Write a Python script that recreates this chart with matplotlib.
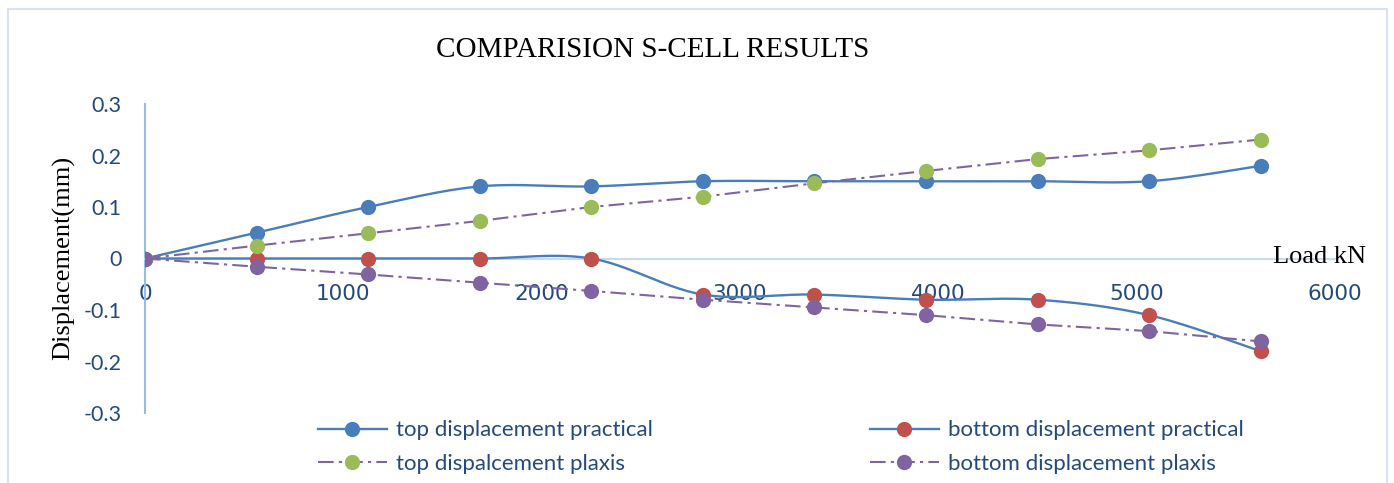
import matplotlib
matplotlib.use("Agg")
import matplotlib.pyplot as plt
from matplotlib.patches import Rectangle
import numpy as np

# data
load = [0, 562.5, 1125, 1687.5, 2250, 2812.5, 3375, 3937.5, 4500, 5062.5, 5625]
top_practical = [0, 0.05, 0.10, 0.14, 0.14, 0.15, 0.15, 0.15, 0.15, 0.15, 0.18]
bottom_practical = [0, 0, 0, 0, 0, -0.07, -0.07, -0.08, -0.08, -0.11, -0.18]
top_plaxis = [0, 0.025, 0.049, 0.073, 0.10, 0.12, 0.146, 0.17, 0.193, 0.21, 0.231]
bottom_plaxis = [0, -0.016, -0.031, -0.047, -0.063, -0.08, -0.095, -0.11, -0.128, -0.141, -0.161]

x_ticks = [0, 1000, 2000, 3000, 4000, 5000, 6000]
y_ticks = [-0.3, -0.2, -0.1, 0, 0.1, 0.2, 0.3]

BLUE = "#4A7EBB"
RED = "#C0504D"
GREEN = "#9BBB59"
PURPLE = "#8064A2"
TEXT = "#244A7C"
SANS = "Lato"
SERIF = "Liberation Serif"


def smooth(xs, ys, n=30):
    # Excel-style smoothed line (Catmull-Rom as cubic Bezier)
    p = np.column_stack([xs, ys]).astype(float)
    p = np.vstack([p[0], p, p[-1]])
    out = []
    t = np.linspace(0, 1, n)[:, None]
    for i in range(1, len(p) - 2):
        p0, p1, p2, p3 = p[i - 1], p[i], p[i + 1], p[i + 2]
        c1 = p1 + (p2 - p0) / 6
        c2 = p2 - (p3 - p1) / 6
        seg = ((1 - t) ** 3) * p1 + 3 * ((1 - t) ** 2) * t * c1 + 3 * (1 - t) * t ** 2 * c2 + t ** 3 * p2
        out.append(seg if i == 1 else seg[1:])
    seg = np.vstack(out)
    return seg[:, 0], seg[:, 1]


W, H = 1394, 483
fig = plt.figure(figsize=(W / 100, H / 100), dpi=100)
ax = fig.add_axes([145 / W, (H - 413) / H, 1190 / W, 309 / H])

dashdot = (0, (7.5, 2.5, 1.5, 2.5))
mk = dict(marker="o", markersize=11, markeredgewidth=0)

sx, sy = smooth(load, top_practical)
ax.plot(sx, sy, color=BLUE, lw=1.7, zorder=3)
ax.plot(load, top_practical, ls="none", color=BLUE, zorder=4, **mk)

sx, sy = smooth(load, bottom_practical)
ax.plot(sx, sy, color=BLUE, lw=1.7, zorder=3)
ax.plot(load, bottom_practical, ls="none", color=RED, zorder=4, **mk)

ax.plot(load, top_plaxis, color=PURPLE, lw=1.5, ls=dashdot, zorder=5)
ax.plot(load, top_plaxis, ls="none", color=GREEN, zorder=6, **mk)

ax.plot(load, bottom_plaxis, color=PURPLE, lw=1.5, ls=dashdot, zorder=5)
ax.plot(load, bottom_plaxis, ls="none", color=PURPLE, zorder=6, **mk)

ax.set_xlim(0, 6000)
ax.set_ylim(-0.3, 0.3)
ax.set_xticks(x_ticks)
ax.set_xticklabels([str(v) for v in x_ticks])
ax.set_yticks(y_ticks)
ax.set_yticklabels(["0" if v == 0 else f"{v:g}" for v in y_ticks])
ax.tick_params(axis="both", length=0, labelsize=15.5, labelcolor=TEXT)
ax.tick_params(axis="x", pad=18)
ax.tick_params(axis="y", pad=17)
for lab in ax.get_xticklabels() + ax.get_yticklabels():
    lab.set_fontfamily(SANS)

ax.spines["top"].set_visible(False)
ax.spines["right"].set_visible(False)
ax.spines["bottom"].set_position(("data", 0))
ax.spines["bottom"].set_color("#C9D9EE")
ax.spines["bottom"].set_linewidth(1.5)
ax.spines["left"].set_color("#9BBBE0")
ax.spines["left"].set_linewidth(1.5)
ax.patch.set_visible(False)

fig.text(653 / W, 1 - 50 / H, "COMPARISION S-CELL RESULTS", family=SERIF,
         fontsize=21, ha="center", va="center")
fig.text(64 / W, 1 - 258 / H, "Displacement(mm)", family=SERIF, fontsize=19,
         rotation=90, ha="center", va="center")
fig.text(1320 / W, 1 - 257 / H, "Load kN", family=SERIF, fontsize=19,
         ha="center", va="center", zorder=5)

# outer chart border
fig.patches.append(Rectangle((8 / W, -0.05), 1379 / W, (H - 9) / H + 0.05,
                             transform=fig.transFigure, fill=False,
                             edgecolor="#D6E2F2", lw=1.5))

# legend, two columns
h_tp = plt.Line2D([], [], color=BLUE, lw=1.7, markerfacecolor=BLUE, **mk)
h_bp = plt.Line2D([], [], color=BLUE, lw=1.7, markerfacecolor=RED, **mk)
h_tx = plt.Line2D([], [], color=PURPLE, lw=1.5, ls=dashdot, markerfacecolor=GREEN, **mk)
h_bx = plt.Line2D([], [], color=PURPLE, lw=1.5, ls=dashdot, markerfacecolor=PURPLE, **mk)

legend_kw = dict(loc="center left", frameon=False, borderpad=0, borderaxespad=0,
                 handlelength=3.1, handletextpad=0.4, labelspacing=0.6,
                 prop={"family": SANS, "size": 16}, labelcolor=TEXT)
fig.legend([h_tp, h_tx], ["top displacement practical", "top dispalcement plaxis"],
           bbox_to_anchor=(318 / W, 1 - 447 / H), **legend_kw)
fig.legend([h_bp, h_bx], ["bottom displacement practical", "bottom displacement plaxis"],
           bbox_to_anchor=(870 / W, 1 - 447 / H), **legend_kw)

fig.savefig("out.png", dpi=100)
